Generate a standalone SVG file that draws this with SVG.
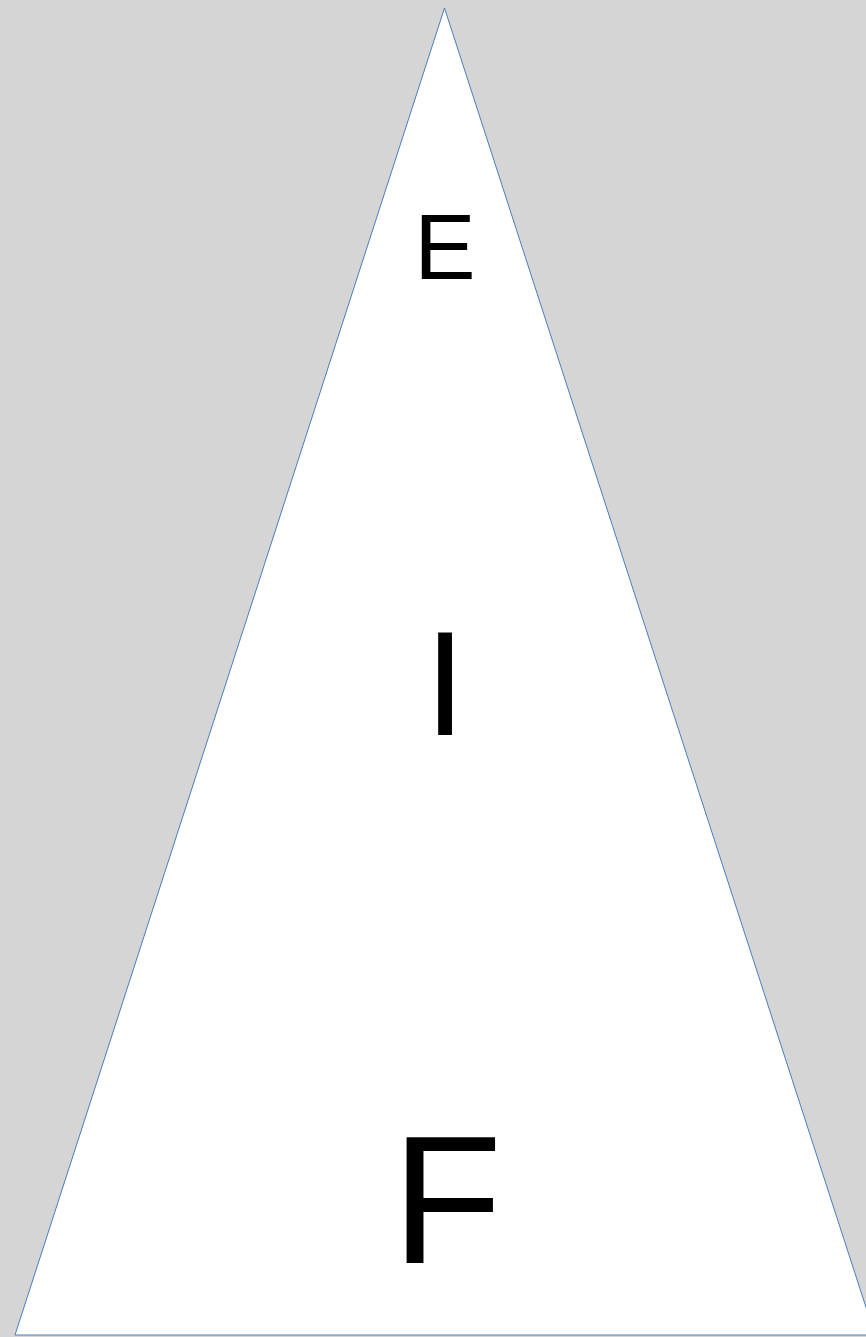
<svg xmlns="http://www.w3.org/2000/svg" width="866" height="1337" viewBox="0 0 866 1337">
<style>
.lbl{font-family:"Liberation Sans",Arial,sans-serif;fill:#000;text-anchor:middle}
</style>
<rect width="866" height="1337" fill="#d5d5d5"/>
<g id="triangle">
<polygon points="444.5,8 15,1335 875,1335" fill="#fff" stroke="#4a7ebb" stroke-width="1"/>
</g>
<g id="E"><text class="lbl" x="445" y="279" font-size="92">E</text></g>
<g id="I"><text class="lbl" x="445" y="735" font-size="148">I</text></g>
<g id="F"><text class="lbl" x="447" y="1263" font-size="181">F</text></g>
</svg>
